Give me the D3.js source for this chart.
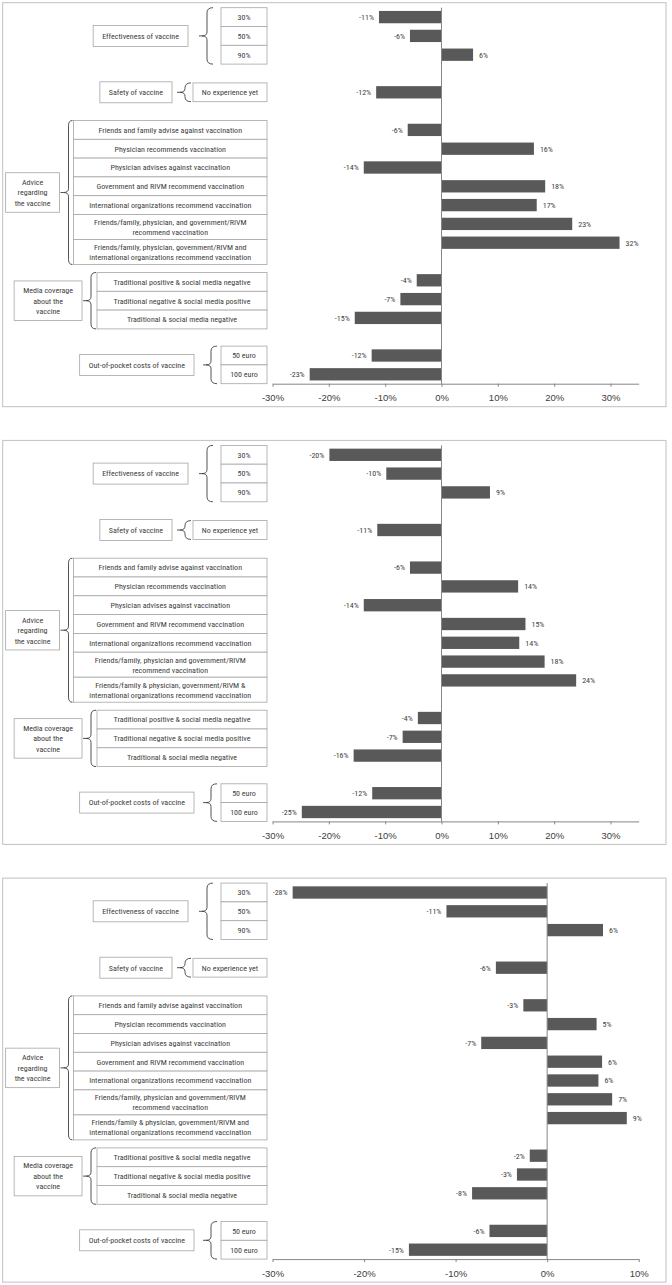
<!DOCTYPE html>
<html><head><meta charset="utf-8">
<script src="https://cdn.jsdelivr.net/npm/d3@7"></script>
<style>
body{margin:0;background:#fff}
text{font-family:"Liberation Sans Narrow","Arial Narrow","Roboto Condensed",sans-serif;fill:#404040}
</style>
</head><body>
<svg id="c" width="672" height="1285"></svg>
<script>
// ---------- data ----------
const groupNames = [["Effectiveness of vaccine"], ["Safety of vaccine"], ["Advice", "regarding", "the vaccine"], ["Media coverage", "about the", "vaccine"], ["Out-of-pocket costs of vaccine"]];
const effectivenessLevels = [["30%"], ["50%"], ["90%"]];
const safetyLevels = [["No experience yet"]];
const adviceLevels = [["Friends and family advise against vaccination"], ["Physician recommends vaccination"], ["Physician advises against vaccination"], ["Government and RIVM recommend vaccination"], ["International organizations recommend vaccination"]];
const adviceCombined1 = [["Friends/family, physician, and government/RIVM", "recommend vaccination"], ["Friends/family, physician, government/RIVM and", "international organizations recommend vaccination"]];
const adviceCombined2 = [["Friends/family, physician and government/RIVM", "recommend vaccination"], ["Friends/family & physician, government/RIVM &", "international organizations recommend vaccination"]];
const adviceCombined3 = [["Friends/family, physician and government/RIVM", "recommend vaccination"], ["Friends/family & physician, government/RIVM and", "international organizations recommend vaccination"]];
const mediaLevels = [["Traditional positive & social media negative"], ["Traditional negative & social media positive"], ["Traditional & social media negative"]];
const costLevels = [["50 euro"], ["100 euro"]];

const values1 = [-11.1, -5.6, 5.6, -11.6, -6.0, 16.4, -13.8, 18.4, 16.9, 23.2, 31.6, -4.4, -7.3, -15.4, -12.4, -23.4];
const values2 = [-19.9, -9.8, 8.6, -11.4, -5.6, 13.6, -13.8, 14.9, 13.8, 18.3, 23.9, -4.2, -6.9, -15.6, -12.3, -24.8];
const values3 = [-27.8, -11.0, 6.1, -5.6, -2.6, 5.4, -7.2, 6.0, 5.6, 7.1, 8.7, -1.9, -3.3, -8.2, -6.3, -15.1];

const domain1 = [-30, 35], ticks1 = [-30, -20, -10, 0, 10, 20, 30];
const domain2 = [-30, 35], ticks2 = [-30, -20, -10, 0, 10, 20, 30];
const domain3 = [-30, 10], ticks3 = [-30, -20, -10, 0, 10];

// ---------- layout ----------
const W = 672;
const frameX0 = 2.7, frameX1 = 666, frameH = 404, panelGap = 437.7, frameTop0 = 2.7;
const plotX0 = 272.5, plotX1 = 638.7, plotOffset = 5, plotH = 376;
const levelRight = 267;
const levelLeft = [221, 193, 73.5, 97, 221];      // left edge of level boxes per group
const braceGap = [14, 8, 5, 6, 10];               // level box -> brace spine
const groupGap = [14, 8, 4, 4, 12];               // brace tip -> group box
const lineH = 10;
const BAR = "#595959", AXIS = "#868686", BOX = "#a6a6a6", FRAME = "#c0c0c0";

const panels = [
  {values: values1, advice: adviceLevels.concat(adviceCombined1), domain: domain1, ticks: ticks1},
  {values: values2, advice: adviceLevels.concat(adviceCombined2), domain: domain2, ticks: ticks2},
  {values: values3, advice: adviceLevels.concat(adviceCombined3), domain: domain3, ticks: ticks3}
];

const svg = d3.select("#c");

panels.forEach((p, pi) => {
  const top = frameTop0 + pi * panelGap;
  const g = svg.append("g");
  g.append("rect").attr("x", frameX0).attr("y", top).attr("width", frameX1 - frameX0).attr("height", frameH)
    .attr("fill", "#fff").attr("stroke", FRAME).attr("stroke-width", 1);

  const levelSets = [effectivenessLevels, safetyLevels, p.advice, mediaLevels, costLevels];
  // rows with one empty row between groups
  const rows = [];
  let r = 0;
  levelSets.forEach((ls, gi) => {
    ls.forEach((lv, li) => { rows.push({gi, li, lines: lv, row: r}); r++; });
    if (gi < levelSets.length - 1) r++;
  });
  const nRows = r;
  rows.forEach((d, i) => d.value = p.values[i]);

  const plotTop = top + plotOffset, plotBottom = plotTop + plotH;
  const y = d3.scaleBand().domain(d3.range(nRows)).range([plotTop, plotBottom]).paddingInner(0.345).paddingOuter(0.1725);
  const x = d3.scaleLinear().domain(p.domain).range([plotX0, plotX1]);
  const step = y.step();
  const rowTop = i => plotTop + i * step;

  // bars
  g.selectAll("rect.bar").data(rows).join("rect").attr("class", "bar")
    .attr("x", d => x(Math.min(0, d.value))).attr("width", d => Math.abs(x(d.value) - x(0)))
    .attr("y", d => y(d.row)).attr("height", y.bandwidth()).attr("fill", BAR);

  // zero line
  g.append("line").attr("x1", x(0)).attr("x2", x(0)).attr("y1", plotTop).attr("y2", plotBottom)
    .attr("stroke", AXIS).attr("stroke-width", 1);

  // data labels
  g.selectAll("text.lab").data(rows).join("text").attr("class", "lab")
    .attr("x", d => d.value < 0 ? x(d.value) - 5 : x(d.value) + 6)
    .attr("y", d => y(d.row) + y.bandwidth() / 2).attr("dy", "0.35em")
    .attr("text-anchor", d => d.value < 0 ? "end" : "start")
    .attr("font-size", 8).text(d => Math.round(d.value) + "%");

  // axis
  const ax = g.append("g").attr("transform", `translate(0,${plotBottom})`)
    .call(d3.axisBottom(x).tickValues(p.ticks).tickFormat(d => d + "%").tickSize(3).tickSizeOuter(0).tickPadding(8));
  ax.select(".domain").attr("stroke", AXIS);
  ax.selectAll(".tick line").attr("stroke", AXIS);
  ax.selectAll(".tick text").attr("font-size", 9.5).attr("fill", "#404040")
    .style("font-family", '"Liberation Sans Narrow","Arial Narrow",sans-serif');

  // level boxes
  let adviceEnd = 0;
  const boxes = [];
  levelSets.forEach((ls, gi) => {
    const first = rows.find(d => d.gi === gi);
    let yy = rowTop(first.row);
    if (gi === 3) yy = Math.max(yy, adviceEnd + 8);
    ls.forEach((lv, li) => {
      const h = gi === 2 ? (lv.length > 1 ? 25 : step) : step;
      boxes.push({gi, li, lines: lv, y0: yy, h});
      yy += h;
    });
    if (gi === 2) adviceEnd = yy;
  });

  const bg = g.append("g");
  boxes.forEach(b => {
    const x0 = levelLeft[b.gi];
    bg.append("rect").attr("x", x0).attr("y", b.y0).attr("width", levelRight - x0).attr("height", b.h)
      .attr("fill", "#fff").attr("stroke", BOX).attr("stroke-width", 0.8);
    const cy = b.y0 + b.h / 2;
    b.lines.forEach((t, k) => {
      bg.append("text").attr("x", (x0 + levelRight) / 2)
        .attr("y", cy + (k - (b.lines.length - 1) / 2) * lineH).attr("dy", "0.35em")
        .attr("text-anchor", "middle").attr("font-size", 8).text(t);
    });
  });

  // braces and group boxes
  groupNames.forEach((gn, gi) => {
    const gb = boxes.filter(b => b.gi === gi);
    const y0 = gb[0].y0, y1 = gb[gb.length - 1].y0 + gb[gb.length - 1].h;
    const ym = (y0 + y1) / 2;
    const sx = levelLeft[gi] - braceGap[gi];
    const hook = Math.min(6, braceGap[gi] - 1);
    const tip = sx - 5;
    const path = `M${sx + hook},${y0} Q${sx},${y0} ${sx},${y0 + 5} L${sx},${ym - 4} Q${sx},${ym} ${tip},${ym} Q${sx},${ym} ${sx},${ym + 4} L${sx},${y1 - 5} Q${sx},${y1} ${sx + hook},${y1}`;
    g.append("path").attr("d", path).attr("fill", "none").attr("stroke", "#404040").attr("stroke-width", 0.9);
    g.append("line").attr("x1", tip - 3).attr("x2", tip).attr("y1", ym).attr("y2", ym).attr("stroke", "#404040").attr("stroke-width", 0.9);

    const right = tip - 3 - groupGap[gi] + 3;
    const tg = g.append("g");
    const texts = gn.map((t, k) => tg.append("text").attr("text-anchor", "middle").attr("font-size", 8)
      .attr("y", ym + (k - (gn.length - 1) / 2) * lineH * 1.05).attr("dy", "0.35em").text(t));
    const tw = d3.max(texts, t => t.node().getComputedTextLength());
    const bw = tw + 18;
    const bh = gn.length > 1 ? gn.length * lineH * 1.05 + 8 : 21;
    const left = right - bw;
    texts.forEach(t => t.attr("x", left + bw / 2));
    tg.insert("rect", "text").attr("x", left).attr("y", ym - bh / 2).attr("width", bw).attr("height", bh)
      .attr("fill", "#fff").attr("stroke", BOX).attr("stroke-width", 0.8);
  });
});
</script>
</body></html>
